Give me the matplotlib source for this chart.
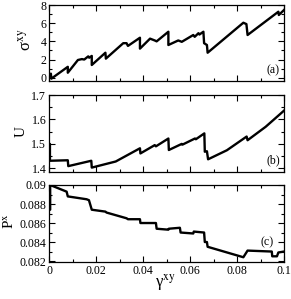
import matplotlib
matplotlib.use("Agg")
import matplotlib.pyplot as plt
from matplotlib.ticker import MultipleLocator, FixedLocator

plt.rcParams['font.family'] = ['Liberation Serif', 'DejaVu Serif']
plt.rcParams['mathtext.fontset'] = 'stix'

# ---- data ----
gamma_a = [0.0000, 0.0008, 0.0010, 0.0080, 0.0080, 0.0123, 0.0140, 0.0150, 0.0167, 0.0171,
           0.0182, 0.0182, 0.0240, 0.0242, 0.0316, 0.0330, 0.0336, 0.0387, 0.0387, 0.0430,
           0.0450, 0.0458, 0.0508, 0.0508, 0.0550, 0.0565, 0.0614, 0.0620, 0.0636, 0.0640,
           0.0657, 0.0660, 0.0672, 0.0675, 0.0827, 0.0840, 0.0845, 0.0976, 0.0978, 0.1000]
sigma = [0.20, 0.45, -0.10, 1.20, 0.55, 1.95, 2.05, 2.00, 2.35, 2.20,
         2.40, 1.40, 2.75, 2.10, 3.80, 3.80, 3.50, 4.40, 3.20, 4.30,
         4.10, 4.00, 5.06, 3.60, 4.10, 3.95, 4.70, 4.50, 4.90, 4.75,
         5.06, 3.80, 3.60, 2.75, 6.05, 5.90, 4.70, 7.26, 6.90, 7.45]

gamma_b = [0.0000, 0.0004, 0.0004, 0.0080, 0.0082, 0.0180, 0.0182, 0.0284, 0.0387, 0.0389,
           0.0450, 0.0455, 0.0508, 0.0510, 0.0565, 0.0568, 0.0621, 0.0625, 0.0661, 0.0663,
           0.0672, 0.0677, 0.0757, 0.0841, 0.0845, 0.0922, 0.1000]
U = [1.500, 1.500, 1.431, 1.433, 1.409, 1.431, 1.403, 1.428, 1.482, 1.461,
     1.495, 1.490, 1.522, 1.475, 1.500, 1.497, 1.522, 1.519, 1.543, 1.468,
     1.470, 1.437, 1.474, 1.530, 1.515, 1.570, 1.636]

gamma_c = [0.0000, 0.0005, 0.0005, 0.0075, 0.0080, 0.0160, 0.0170, 0.0182, 0.0240, 0.0245,
           0.0330, 0.0336, 0.0387, 0.0389, 0.0455, 0.0458, 0.0508, 0.0510, 0.0557, 0.0560,
           0.0614, 0.0616, 0.0660, 0.0663, 0.0672, 0.0675, 0.0827, 0.0845, 0.0948, 0.0950,
           0.0970, 0.0976, 0.1000]
P = [0.0874, 0.0874, 0.0900, 0.0893, 0.0888, 0.0885, 0.0884, 0.0874, 0.0872, 0.0871,
     0.0865, 0.0864, 0.0864, 0.0860, 0.0860, 0.0854, 0.0853, 0.0854, 0.0855, 0.0850,
     0.0849, 0.0851, 0.0850, 0.0840, 0.0840, 0.0835, 0.0824, 0.0831, 0.0830, 0.0825,
     0.0825, 0.0829, 0.0830]

x_ticks = [0, 0.02, 0.04, 0.06, 0.08, 0.1]
x_ticklabels = ["0", "0.02", "0.04", "0.06", "0.08", "0.1"]
a_ticks = [0, 2, 4, 6, 8]
a_ticklabels = ["0", "2", "4", "6", "8"]
b_ticks = [1.4, 1.5, 1.6, 1.7]
b_ticklabels = ["1.4", "1.5", "1.6", "1.7"]
c_ticks = [0.082, 0.084, 0.086, 0.088, 0.09]
c_ticklabels = ["0.082", "0.084", "0.086", "0.088", "0.09"]

W, H = 291, 299
fig = plt.figure(figsize=(W / 100, H / 100), dpi=100)

def pos(top, bottom, left=49, right=284):
    return [left / W, (H - bottom) / H, (right - left) / W, (bottom - top) / H]

axa = fig.add_axes(pos(5, 81))
axb = fig.add_axes(pos(95, 172))
axc = fig.add_axes(pos(185, 262))

lw = 1.7
axa.plot(gamma_a, sigma, color='black', lw=lw)
axb.plot(gamma_b, U, color='black', lw=lw)
axc.plot(gamma_c, P, color='black', lw=lw)

axa.set_ylim(-0.36, 8)
axb.set_ylim(1.385, 1.7)
axc.set_ylim(0.0819, 0.09)

for ax, yt, ytl, ymin in [(axa, a_ticks, a_ticklabels, 1),
                          (axb, b_ticks, b_ticklabels, 0.05),
                          (axc, c_ticks, c_ticklabels, 0.001)]:
    ax.set_xlim(0, 0.1)
    ax.xaxis.set_major_locator(FixedLocator(x_ticks))
    ax.xaxis.set_minor_locator(MultipleLocator(0.01))
    ax.yaxis.set_major_locator(FixedLocator(yt))
    ax.set_yticklabels(ytl)
    ax.yaxis.set_minor_locator(MultipleLocator(ymin))
    ax.tick_params(which='both', direction='in', top=True, right=True,
                   labelsize=8.6, width=0.8, pad=2)
    ax.tick_params(which='major', length=4.5)
    ax.tick_params(which='minor', length=2.5)
    for s in ax.spines.values():
        s.set_linewidth(0.9)
    if ax is axc:
        ax.set_xticklabels(x_ticklabels)
    else:
        ax.set_xticklabels([])

axa.text(0.953, 0.145, "(a)", transform=axa.transAxes, ha='center', va='center', fontsize=8.6)
axb.text(0.953, 0.15, "(b)", transform=axb.transAxes, ha='center', va='center', fontsize=8.6)
axc.text(0.928, 0.25, "(c)", transform=axc.transAxes, ha='center', va='center', fontsize=8.6)

fig.text(26.5 / W, 1 - 40 / H, r"σ$^{\mathrm{xy}}$", rotation=90, ha='center', va='center', fontsize=12)
fig.text(21.5 / W, 1 - 132 / H, "U", rotation=90, ha='center', va='center', fontsize=11)
fig.text(10 / W, 1 - 221 / H, r"P$^{\mathrm{x}}$", rotation=90, ha='center', va='center', fontsize=11)
fig.text(165 / W, 1 - 283 / H, r"γ$^{\mathrm{xy}}$", ha='center', va='center', fontsize=12)

fig.savefig("out.png", dpi=100)
